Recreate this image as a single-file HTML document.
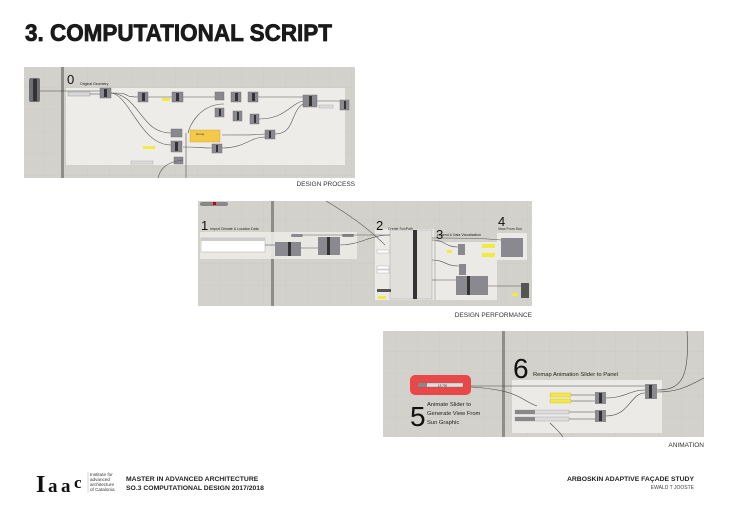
<!DOCTYPE html>
<html><head><meta charset="utf-8"><style>
html,body{margin:0;padding:0;background:#fff;width:730px;height:516px;overflow:hidden}
svg{display:block;font-family:"Liberation Sans",Arial,sans-serif}
</style></head><body>
<svg width="730" height="516" viewBox="0 0 730 516" xmlns="http://www.w3.org/2000/svg">
<defs>
<pattern id="grid" width="22" height="22" patternUnits="userSpaceOnUse">
<rect width="22" height="22" fill="#d3d1cb"/>
<path d="M22 0V22M0 22H22" stroke="#c8c6c0" stroke-width="0.6"/>
</pattern>
</defs>
<rect width="730" height="516" fill="#fff"/>
<text x="25" y="41" font-size="24" font-weight="bold" fill="#1a1a1a" stroke="#1a1a1a" stroke-width="0.8" textLength="307" lengthAdjust="spacingAndGlyphs">3. COMPUTATIONAL SCRIPT</text>

<!-- Panel 1 -->
<rect x="24" y="67" width="331" height="111" fill="url(#grid)"/>
<rect x="61" y="67" width="3" height="111" fill="#8f8d88"/>
<rect x="66" y="88" width="279" height="77" fill="#edece8"/>
<rect x="29" y="78" width="11" height="24" rx="2" fill="#6f6f74"/><rect x="33" y="79" width="4" height="22" fill="#333"/>
<path d="M40 91H100" stroke="#444" stroke-width="0.6" fill="none"/>
<text x="67" y="84" font-size="13" fill="#111">0</text>
<text x="80" y="85" font-size="3.5" fill="#222">Original Geometry</text>
<rect x="68" y="92" width="22" height="4" fill="#d8d8d8" stroke="#888" stroke-width="0.4"/>
<g fill="#8a8990" stroke="#666" stroke-width="0.4">
<rect x="100" y="88" width="11" height="10"/><rect x="138" y="92" width="10" height="10"/><rect x="172" y="92" width="11" height="10"/>
<rect x="215" y="92" width="9" height="8"/><rect x="231" y="92" width="10" height="10"/><rect x="248" y="92" width="10" height="10"/>
<rect x="215" y="108" width="9" height="9"/><rect x="233" y="111" width="9" height="10"/><rect x="250" y="114" width="9" height="10"/>
<rect x="303" y="95" width="14" height="12"/><rect x="340" y="100" width="9" height="10"/>
<rect x="171" y="129" width="11" height="8"/><rect x="171" y="141" width="11" height="11"/><rect x="265" y="130" width="10" height="9"/>
<rect x="212" y="144" width="10" height="9"/><rect x="174" y="157" width="9" height="7"/>
</g>
<g fill="#333"><rect x="104" y="89" width="3" height="8"/><rect x="142" y="93" width="3" height="8"/><rect x="176" y="93" width="3" height="8"/><rect x="235" y="93" width="3" height="8"/><rect x="252" y="93" width="3" height="8"/><rect x="219" y="109" width="2" height="7"/><rect x="237" y="112" width="2" height="8"/><rect x="254" y="115" width="2" height="8"/><rect x="309" y="96" width="3" height="10"/><rect x="344" y="101" width="2" height="8"/><rect x="175" y="142" width="3" height="9"/><rect x="216" y="145" width="2" height="7"/><rect x="269" y="131" width="2" height="7"/></g>
<rect x="190" y="130" width="30" height="12" fill="#f4c94a" stroke="#c9a030" stroke-width="0.4"/>
<text x="196" y="135" font-size="3" fill="#333">Group</text>
<rect x="162" y="98" width="8" height="3" fill="#f2ea40"/><rect x="143" y="146" width="12" height="3" fill="#f2ea40"/>
<rect x="319" y="105" width="14" height="3" fill="#ddd" stroke="#888" stroke-width="0.3"/>
<rect x="131" y="161" width="22" height="3" fill="#ddd" stroke="#888" stroke-width="0.3"/>
<g stroke="#555" stroke-width="0.6" fill="none">
<path d="M90 94H100"/><path d="M111 93C135 93 120 97 138 97"/><path d="M148 97H172"/><path d="M183 97H215"/>
<path d="M111 93C140 95 140 133 171 133"/><path d="M111 93C130 95 140 145 171 145"/>
<path d="M222 135C260 135 250 135 265 134"/><path d="M275 134C295 134 290 112 303 104"/><path d="M258 97H303"/><path d="M259 119C285 119 290 104 303 101"/>
<path d="M317 101H340"/><path d="M183 147C200 147 200 148 212 148"/><path d="M222 148C245 148 250 137 265 137"/>
<path d="M183 160C165 162 160 170 158 178"/><path d="M186 133C186 150 186 165 186 178"/><path d="M224 104C200 104 190 125 188 133"/>
</g>
<text x="355" y="186" font-size="6.5" fill="#333" text-anchor="end">DESIGN PROCESS</text>

<!-- Panel 2 -->
<rect x="198" y="201" width="334" height="105" fill="url(#grid)"/>
<rect x="271" y="201" width="3" height="105" fill="#8f8d88"/>
<rect x="200" y="202" width="28" height="4" rx="2" fill="#888"/><rect x="213" y="202" width="3" height="3" fill="#c00"/>
<rect x="200" y="232" width="157" height="27" fill="#ebeae6" opacity="0.9"/>
<text x="201" y="230" font-size="13" fill="#111">1</text>
<text x="210" y="230" font-size="3.5" fill="#222">Import Climate &amp; Location Data</text>
<rect x="201" y="238" width="64" height="14" fill="#fff" stroke="#999" stroke-width="0.4"/>
<rect x="201" y="238" width="64" height="3" fill="#ccc"/>
<rect x="275" y="242" width="26" height="14" fill="#8a8990"/><rect x="288" y="242" width="3" height="14" fill="#333"/>
<rect x="318" y="237" width="22" height="18" fill="#8a8990"/><rect x="327" y="237" width="3" height="18" fill="#333"/>
<rect x="291" y="234" width="12" height="3" rx="1.5" fill="#8a8990"/><rect x="342" y="234" width="12" height="3" rx="1.5" fill="#8a8990"/>
<rect x="375" y="229" width="59" height="71" fill="#ebeae6"/>
<text x="376" y="230" font-size="13" fill="#111">2</text>
<text x="388" y="230" font-size="3.5" fill="#222">Create SunPath</text>
<rect x="390" y="230" width="42" height="69" fill="#e0dfdc" stroke="#999" stroke-width="0.4"/>
<rect x="413" y="230" width="4" height="69" fill="#333"/>
<rect x="436" y="242" width="61" height="58" fill="#ebeae6"/>
<text x="436" y="239" font-size="13" fill="#111">3</text>
<text x="437" y="236" font-size="3.5" fill="#222">Legend &amp; Data Visualisation</text>
<rect x="497" y="233" width="30" height="27" fill="#ebeae6"/>
<text x="498" y="226" font-size="13" fill="#111">4</text>
<text x="498" y="230" font-size="3.5" fill="#222">View From Sun</text>
<rect x="501" y="238" width="22" height="19" fill="#8a8990"/>
<rect x="458" y="244" width="7" height="11" fill="#8a8990"/><rect x="459" y="264" width="7" height="11" fill="#8a8990"/>
<rect x="456" y="276" width="32" height="19" fill="#8a8990"/><rect x="467" y="276" width="3" height="19" fill="#333"/>
<rect x="521" y="283" width="8" height="15" fill="#555"/>
<g fill="#f2ea40"><rect x="447" y="250" width="5" height="3"/><rect x="482" y="244" width="13" height="4"/><rect x="482" y="253" width="13" height="4"/><rect x="512" y="293" width="6" height="3"/><rect x="378" y="296" width="8" height="3"/></g>
<rect x="377" y="289" width="14" height="3" fill="#555"/>
<g fill="#fff" stroke="#888" stroke-width="0.3"><rect x="377" y="250" width="12" height="3"/><rect x="377" y="266" width="12" height="3"/><rect x="377" y="270" width="12" height="3"/></g>
<g stroke="#555" stroke-width="0.6" fill="none">
<path d="M265 245H275"/><path d="M301 248H318"/><path d="M340 245C360 245 370 235 390 235"/><path d="M303 235H390"/>
<path d="M326 201C350 215 370 230 385 245"/><path d="M432 240C445 240 445 247 458 247"/><path d="M432 260C445 260 445 266 459 266"/>
<path d="M432 280H456"/><path d="M488 286H521"/><path d="M432 238C460 238 480 238 501 240"/>
</g>
<text x="532" y="317" font-size="6.5" fill="#333" text-anchor="end">DESIGN PERFORMANCE</text>

<!-- Panel 3 -->
<rect x="383" y="331" width="321" height="106" fill="url(#grid)"/>
<rect x="502" y="331" width="3" height="106" fill="#8f8d88"/>
<rect x="512" y="380" width="150" height="53" fill="#ebeae6"/>
<rect x="410" y="375" width="61" height="20" rx="5" fill="#e8484a"/>
<rect x="418" y="383" width="45" height="4" fill="#ddd" stroke="#666" stroke-width="0.3"/>
<rect x="418" y="383" width="9" height="4" fill="#888"/>
<text x="438" y="386.5" font-size="3" fill="#222">13.750</text>
<text x="410" y="426" font-size="28" fill="#111">5</text>
<text x="427" y="406" font-size="5.8" fill="#222">Animate Slider to</text>
<text x="427" y="415" font-size="5.8" fill="#222">Generate View From</text>
<text x="427" y="424" font-size="5.8" fill="#222">Sun Graphic</text>
<text x="513" y="378" font-size="28" fill="#111">6</text>
<text x="533" y="376" font-size="5.8" fill="#222">Remap Animation Slider to Panel</text>
<rect x="550" y="393" width="21" height="4" fill="#f2ea40" stroke="#b9a92a" stroke-width="0.3"/>
<rect x="550" y="399" width="21" height="4" fill="#f2ea40" stroke="#b9a92a" stroke-width="0.3"/>
<rect x="515" y="410" width="54" height="4" fill="#ddd" stroke="#888" stroke-width="0.3"/><rect x="515" y="410" width="20" height="4" fill="#888"/>
<rect x="515" y="417" width="54" height="4" fill="#ddd" stroke="#888" stroke-width="0.3"/><rect x="515" y="417" width="20" height="4" fill="#888"/>
<g fill="#8a8990"><rect x="595" y="392" width="11" height="12"/><rect x="595" y="410" width="11" height="12"/><rect x="645" y="384" width="12" height="15"/></g>
<g fill="#333"><rect x="599" y="393" width="3" height="10"/><rect x="599" y="411" width="3" height="10"/><rect x="649" y="385" width="3" height="13"/></g>
<g stroke="#444" stroke-width="0.6" fill="none">
<path d="M471 386H645"/><path d="M471 387C520 390 520 400 537 406"/><path d="M571 395H595"/><path d="M571 401H595"/>
<path d="M569 412H595"/><path d="M569 419H595"/><path d="M606 398C625 398 630 390 645 390"/><path d="M606 416C630 416 630 393 645 393"/>
<path d="M657 390C680 390 690 380 687 331"/><path d="M657 392C680 392 690 385 704 378"/><path d="M550 423C555 428 560 432 563 437"/>
</g>
<text x="704" y="447" font-size="6.5" fill="#333" text-anchor="end">ANIMATION</text>

<!-- Footer -->
<g font-family="Liberation Serif,serif" font-weight="bold" fill="#111">
<text x="36" y="492" font-size="24">I</text>
<text x="48" y="492" font-size="19">a</text>
<text x="61" y="492" font-size="19">a</text>
<text x="74" y="488" font-size="17">c</text>
</g>
<line x1="88" y1="472" x2="88" y2="493" stroke="#999" stroke-width="0.4"/>
<g font-size="4.6" fill="#333"><text x="90" y="476">Institute for</text><text x="90" y="481">advanced</text><text x="90" y="486">architecture</text><text x="90" y="491">of Catalonia</text></g>
<text x="126" y="481" font-size="6.8" font-weight="bold" fill="#222">MASTER IN ADVANCED ARCHITECTURE</text>
<text x="126" y="490" font-size="6.8" font-weight="bold" fill="#222">SO.3 COMPUTATIONAL DESIGN 2017/2018</text>
<text x="694" y="481" font-size="6.8" font-weight="bold" fill="#222" text-anchor="end">ARBOSKIN ADAPTIVE FAÇADE STUDY</text>
<text x="694" y="489" font-size="5" fill="#444" text-anchor="end">EWALD T JOOSTE</text>
</svg>
</body></html>
